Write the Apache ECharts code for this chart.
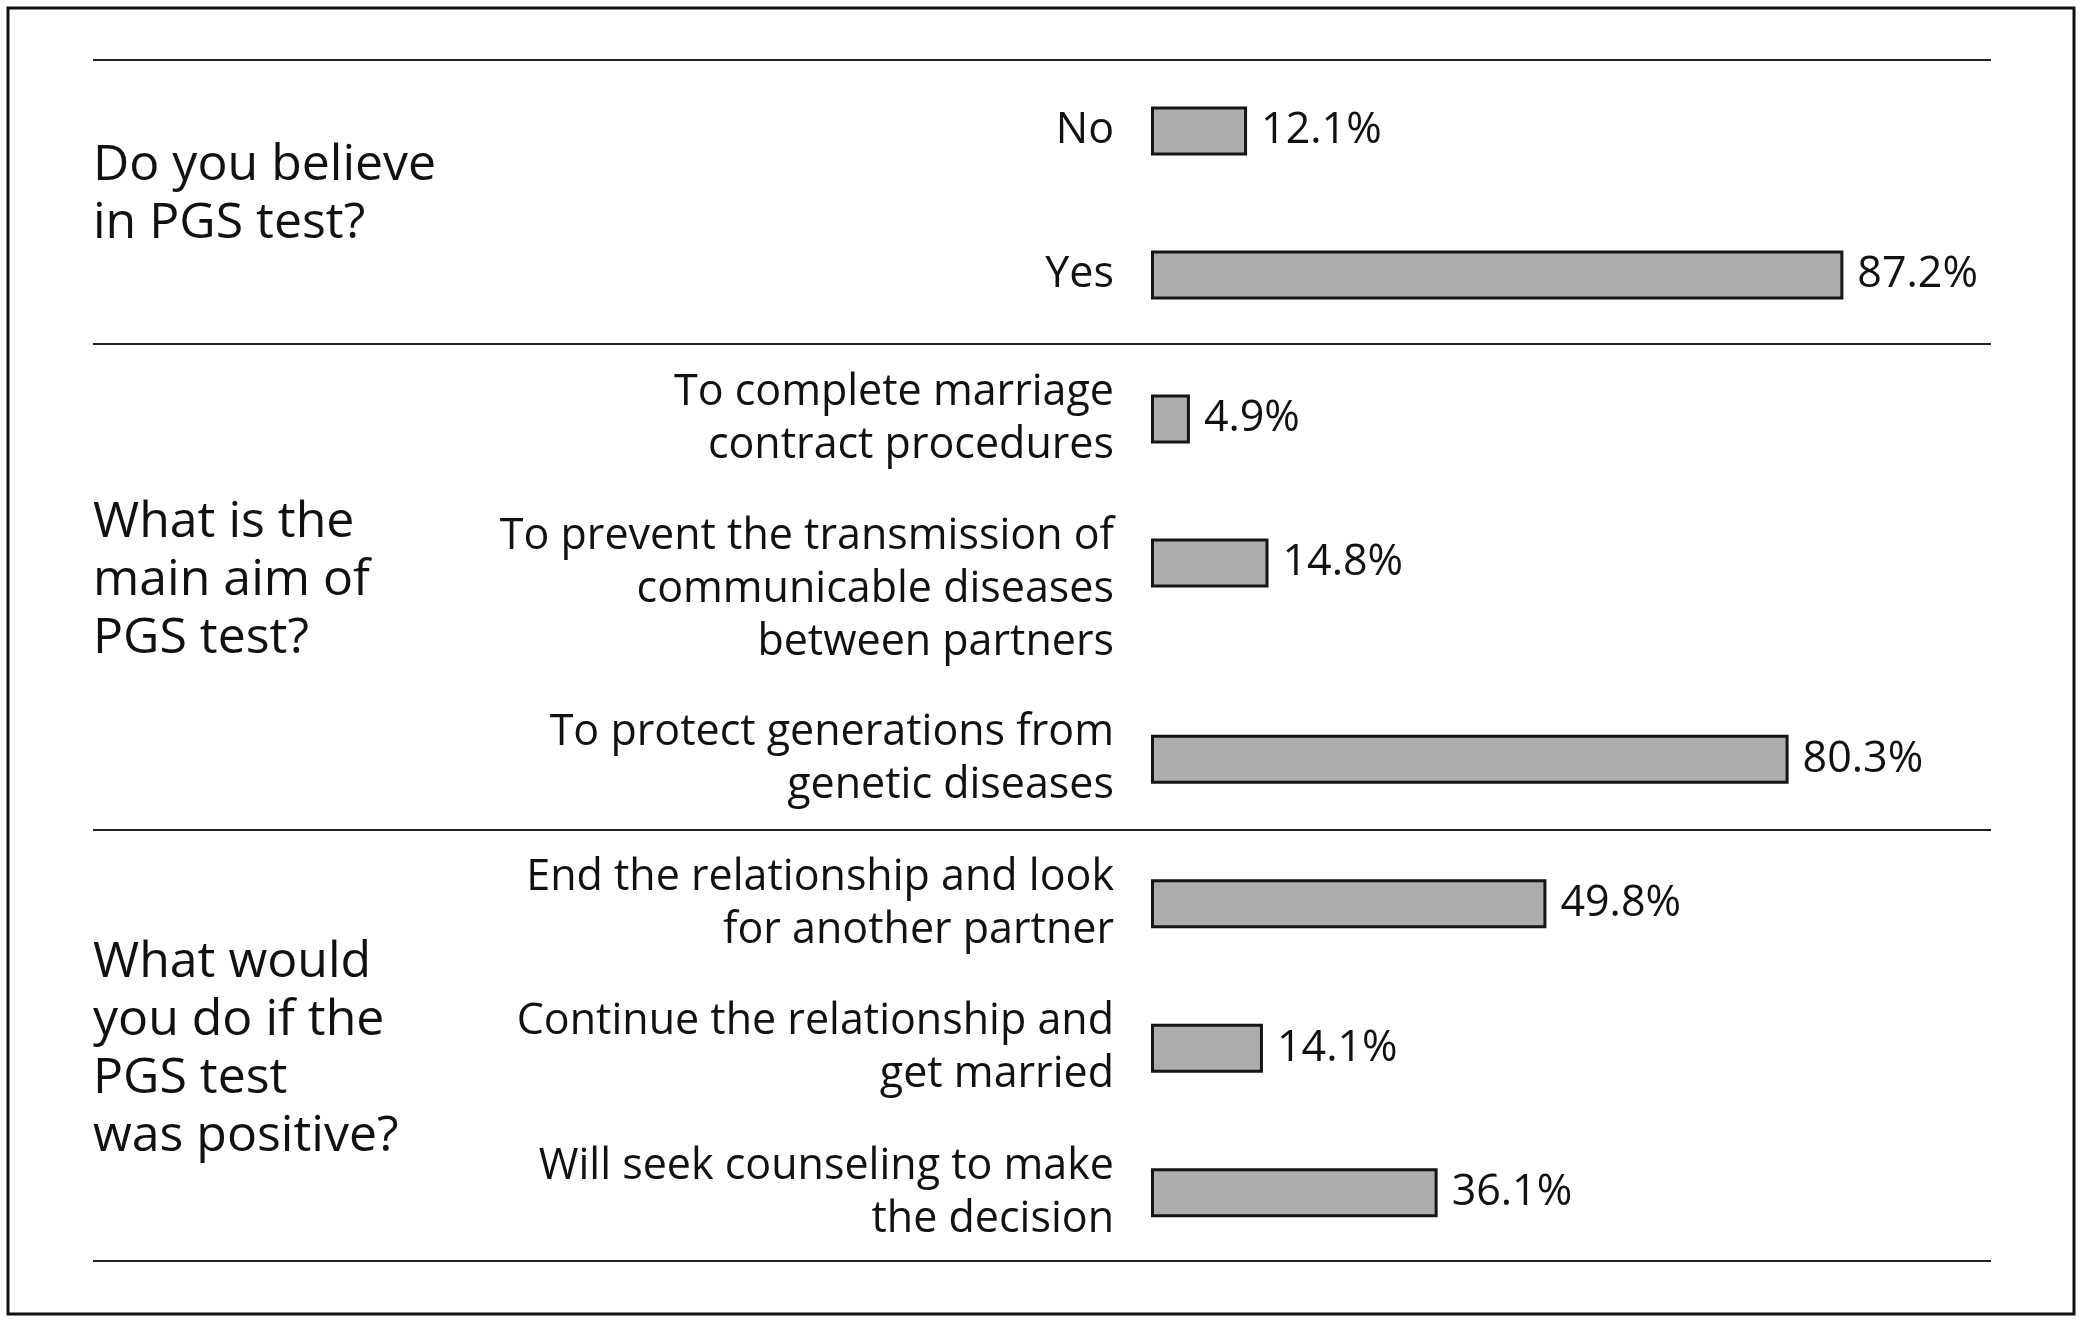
<!DOCTYPE html>
<html>
<head>
<meta charset="utf-8">
<script src="https://cdn.jsdelivr.net/npm/echarts@6/dist/echarts.min.js"></script>
<style>
html,body{margin:0;padding:0;background:#fff;}
#chart{width:2085px;height:1324px;}
</style>
</head>
<body>
<div id="chart"></div>
<script>
// ---- data ----
const questions = [
  "Do you believe\nin PGS test?",
  "What is the\nmain aim of\nPGS test?",
  "What would\nyou do if the\nPGS test\nwas positive?"
];
const categoriesTop = [
  "No",
  "Yes",
  "To complete marriage\ncontract procedures",
  "To prevent the transmission of\ncommunicable diseases\nbetween partners"
];
const valuesTop = [12.1, 87.2, 4.9, 14.8];
const categoriesBottom = [
  "To protect generations from\ngenetic diseases",
  "End the relationship and look\nfor another partner",
  "Continue the relationship and\nget married",
  "Will seek counseling to make\nthe decision"
];
const valuesBottom = [80.3, 49.8, 14.1, 36.1];

// ---- chart ----
const FONT = "'Open Sans', 'Noto Sans', sans-serif";
const chart = echarts.init(document.getElementById('chart'), null, {renderer: 'canvas'});

const barStyle = {color: '#adadad', borderColor: '#151515', borderWidth: 3};
const labelStyle = {
  show: true, position: 'right', distance: 14,
  fontSize: 43, fontFamily: FONT, color: '#111',
  formatter: p => p.value.toFixed(1) + '%'
};
const yAxisCommon = {
  type: 'category', inverse: true,
  axisLine: {show: false}, axisTick: {show: false}, splitLine: {show: false},
  axisLabel: {
    interval: 0, hideOverlap: false, fontSize: 43, fontFamily: FONT, color: '#111',
    lineHeight: 53, margin: 37, align: 'right',
    // three-line labels sit lower than their bar in the original
    formatter: v => (v.split('\n').length >= 3 ? '\n' + v : v)
  }
};
const xAxisCommon = {type: 'value', min: 0, max: 100, show: false};

const LX = 93, RX = 1991;
function sep(y) {
  return {type: 'line', shape: {x1: LX, y1: y, x2: RX, y2: y}, style: {stroke: '#222', lineWidth: 2}, silent: true};
}
function qText(txt, yc) {
  return {type: 'text', style: {text: txt, x: LX, y: yc, fontSize: 50, fontFamily: FONT, fill: '#111', lineHeight: 58, verticalAlign: 'middle', align: 'left'}, silent: true};
}

chart.setOption({
  animation: false,
  backgroundColor: '#fff',
  grid: [
    {left: 1151, width: 794, top: 59, height: 576},
    {left: 1151, width: 794, top: 687, height: 578}
  ],
  xAxis: [
    Object.assign({gridIndex: 0}, xAxisCommon),
    Object.assign({gridIndex: 1}, xAxisCommon)
  ],
  yAxis: [
    Object.assign({gridIndex: 0, data: categoriesTop}, yAxisCommon),
    Object.assign({gridIndex: 1, data: categoriesBottom}, yAxisCommon)
  ],
  series: [
    {type: 'bar', xAxisIndex: 0, yAxisIndex: 0, data: valuesTop, barWidth: 49, itemStyle: barStyle, label: labelStyle},
    {type: 'bar', xAxisIndex: 1, yAxisIndex: 1, data: valuesBottom, barWidth: 49, itemStyle: barStyle, label: labelStyle}
  ],
  graphic: [
    {type: 'rect', shape: {x: 8, y: 8, width: 2066, height: 1306}, style: {fill: 'none', stroke: '#111', lineWidth: 3}, silent: true},
    sep(60), sep(344), sep(830), sep(1261),
    qText(questions[0], 195),
    qText(questions[1], 581),
    qText(questions[2], 1050)
  ]
});
</script>
</body>
</html>
